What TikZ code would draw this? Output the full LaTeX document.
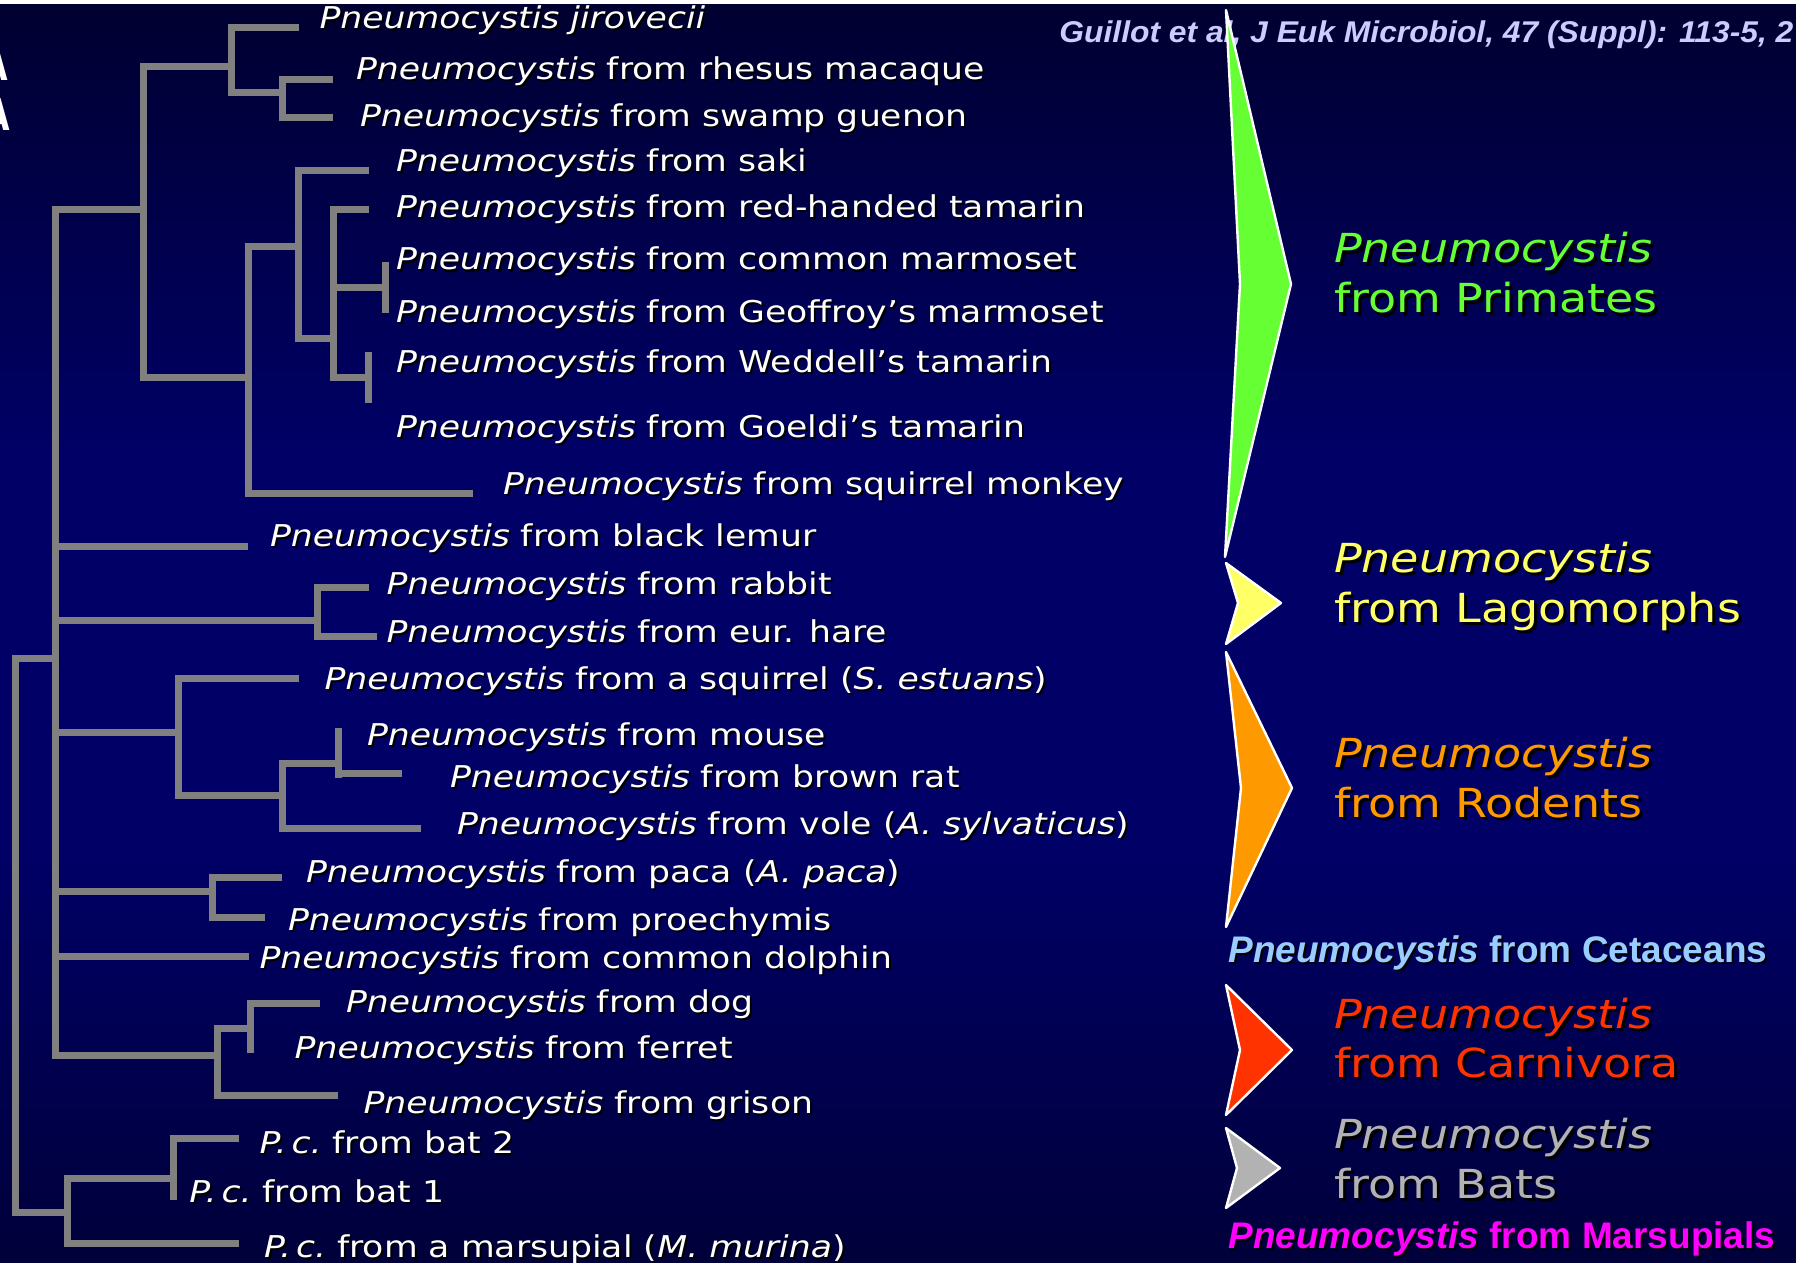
\documentclass[tikz,border=0pt]{standalone}
\usepackage{fontspec}
\setmainfont{DejaVu Sans}
\newfontfamily\vf[FakeStretch=1.155]{DejaVu Sans}
\newfontfamily\wf[FakeStretch=1.15]{DejaVu Sans}
\newfontfamily\af{Liberation Sans}
\newfontfamily\cf[FakeStretch=1.06]{Liberation Sans}
\newfontfamily\nf[FakeStretch=0.75]{DejaVu Sans}
\definecolor{bgtop}{RGB}{0,0,48}
\definecolor{bgmid}{RGB}{0,0,102}
\definecolor{bgbot}{RGB}{0,0,58}
\definecolor{branch}{HTML}{808080}
\definecolor{cgreen}{HTML}{66FF33}
\definecolor{cyellow}{HTML}{FFFF66}
\definecolor{corange}{HTML}{FF9900}
\definecolor{cred}{HTML}{FF3300}
\definecolor{cgrey}{HTML}{B2B2B2}
\definecolor{cblue}{HTML}{99CCFF}
\definecolor{cmag}{HTML}{FF00FF}
\definecolor{ccite}{HTML}{CCCCFF}
\newcommand\Pn{\textit{Pneumocystis}}
\newcommand\tl[4]{\node[tlab,text=black] (#1s) at ({#2+2},{#3+2}) {#4};\node[tlab] (#1) at (#2,#3) {#4};}
\newcommand\rl[5]{\node[rlab,text=black] (#1s) at ({#2+3},{#3+3}) {#5};\node[rlab,text=#4] (#1) at (#2,#3) {#5};}
\tikzset{
  br/.style={draw=branch,line width=3.5pt},
  tlab/.style={anchor=base west,inner sep=0pt,outer sep=0pt,text=white,font=\vf\fontsize{15}{18}\selectfont},
  rlab/.style={anchor=base west,inner sep=0pt,outer sep=0pt,font=\wf\fontsize{20}{24}\selectfont},
  blab/.style={anchor=base west,inner sep=0pt,outer sep=0pt,font=\af\bfseries\fontsize{18.5}{22}\selectfont},
  arr/.style={draw=white,line width=1.2pt,line join=round},
  edge/.style={anchor=base east,inner sep=0pt,text=white,font=\nf\bfseries\fontsize{22}{26}\selectfont},
}
\begin{document}
\begin{tikzpicture}[x=0.5pt,y=-0.5pt]
\useasboundingbox (0,0) rectangle (1796,1263);
\clip (0,0) rectangle (1796,1263);
% background
\shade[top color=bgtop,bottom color=bgmid] (0,0) rectangle (1796,450);
\fill[bgmid] (0,449) rectangle (1796,851);
\shade[top color=bgmid,bottom color=bgbot] (0,850) rectangle (1796,1263);
\fill[white] (0,0) rectangle (1796,4);
% letters cut off at the left edge
\node[edge] (la1) at (8,81) {A};
\node[edge] (la2) at (10,131) {A};
% ---------------- tree ----------------
% primates
\draw[br] (298.5,28) -- (231,28) -- (231,93) -- (282.5,93);
\draw[br] (333,80) -- (282.5,80) -- (282.5,118) -- (333,118);
\draw[br] (231,67) -- (143.5,67) -- (143.5,377) -- (248,377);
\draw[br] (143.5,210) -- (55.5,210) -- (55.5,1055) -- (217,1055);
\draw[br] (296.6,247) -- (248,247) -- (248,493) -- (472.6,493);
\draw[br] (368.5,171) -- (298.5,171) -- (298.5,338) -- (333,338);
\draw[br] (368.5,210) -- (333,210) -- (333,377) -- (368.5,377);
\draw[br] (333,287) -- (385.8,287);
\draw[br] (385.8,262) -- (385.8,313);
\draw[br] (368.5,352) -- (368.5,403);
% lemur, lagomorphs
\draw[br] (55.5,546) -- (248,546);
\draw[br] (55.5,620) -- (317.6,620);
\draw[br] (369,587) -- (317.6,587) -- (317.6,636) -- (377,636);
% root
\draw[br] (52,658) -- (15.3,658) -- (15.3,1212) -- (67.7,1212);
% rodents
\draw[br] (55.5,732) -- (178,732);
\draw[br] (298.5,678) -- (178,678) -- (178,795) -- (282.4,795);
\draw[br] (336.8,763) -- (282.4,763) -- (282.4,828) -- (421,828);
\draw[br] (338,728) -- (338,778);
\draw[br] (338,773) -- (401.8,773);
\draw[br] (55.5,891) -- (212.4,891);
\draw[br] (282,877) -- (212.4,877) -- (212.4,917) -- (265,917);
% dolphin
\draw[br] (55.5,956) -- (248.7,956);
% carnivora
\draw[br] (250.7,1028) -- (217,1028) -- (217,1095) -- (337.5,1095);
\draw[br] (319.6,1003) -- (250.7,1003) -- (250.7,1053);
% bats and marsupial
\draw[br] (170,1178) -- (67.7,1178) -- (67.7,1243) -- (239,1243);
\draw[br] (239,1138) -- (173,1138) -- (173,1200);
% ---------------- labels ----------------
\tl{jir}{319.5}{29}{\textit{Pneumocystis jirovecii}}
\tl{rhe}{356}{80}{\Pn\ from rhesus macaque}
\tl{gue}{360}{127}{\Pn\ from swamp guenon}
\tl{sak}{396}{172}{\Pn\ from saki}
\tl{rht}{396}{218}{\Pn\ from red-handed tamarin}
\tl{cmm}{396}{270}{\Pn\ from common marmoset}
\tl{gmm}{396}{322}{\Pn\ from Geoffroy’s marmoset}
\tl{wed}{396}{372}{\Pn\ from Weddell’s tamarin}
\tl{goe}{396}{437}{\Pn\ from Goeldi’s tamarin}
\tl{sqm}{503}{494}{\Pn\ from squirrel monkey}
\tl{lem}{270}{546}{\Pn\ from black lemur}
\tl{rab}{386.5}{594}{\Pn\ from rabbit}
\tl{har}{386.5}{642}{\Pn\ from eur. hare}
\tl{squ}{324.5}{689}{\Pn\ from a squirrel (\textit{S. estuans})}
\tl{mou}{367}{745}{\Pn\ from mouse}
\tl{rat}{450}{787}{\Pn\ from brown rat}
\tl{vol}{457}{834}{\Pn\ from vole (\textit{A. sylvaticus})}
\tl{pac}{306}{882}{\Pn\ from paca (\textit{A. paca})}
\tl{pro}{288}{930}{\Pn\ from proechymis}
\tl{dol}{259.5}{968}{\Pn\ from common dolphin}
\tl{dog}{346}{1012}{\Pn\ from dog}
\tl{fer}{294.7}{1058}{\Pn\ from ferret}
\tl{gri}{363.5}{1113}{\Pn\ from grison}
\tl{bt2}{259.5}{1153}{\textit{P.\,c.}\ from bat 2}
\tl{bt1}{189.4}{1202}{\textit{P.\,c.}\ from bat 1}
\tl{mar}{264}{1257}{\textit{P.\,c.}\ from a marsupial (\textit{M. murina})}
% ---------------- right side ----------------
\node[anchor=base west,inner sep=0pt,text=ccite,font=\cf\bfseries\itshape\fontsize{15}{18}\selectfont] (cit) at (1059,43) {Guillot et al, J Euk Microbiol, 47 (Suppl): 113-5, 2};
\path[arr,fill=cgreen] (1226,10) -- (1291,284) -- (1225,557) -- (1240,284) -- cycle;
\path[arr,fill=cyellow] (1226,563) -- (1281,603) -- (1226,644) -- (1238,603) -- cycle;
\path[arr,fill=corange] (1226,652) -- (1292,788) -- (1226,927) -- (1241,788) -- cycle;
\path[arr,fill=cred] (1226,985) -- (1292,1050) -- (1226,1115) -- (1240,1050) -- cycle;
\path[arr,fill=cgrey] (1226,1128) -- (1280,1168) -- (1226,1208) -- (1237,1168) -- cycle;
\rl{pr1}{1334}{263}{cgreen}{\Pn}
\rl{pr2}{1334}{313}{cgreen}{from Primates}
\rl{lg1}{1334}{572}{cyellow}{\Pn}
\rl{lg2}{1334}{622}{cyellow}{from Lagomorphs}
\rl{ro1}{1334}{767}{corange}{\Pn}
\rl{ro2}{1334}{817}{corange}{from Rodents}
\rl{ca1}{1334}{1028}{cred}{\Pn}
\rl{ca2}{1334}{1077}{cred}{from Carnivora}
\rl{ba1}{1334}{1148}{cgrey}{\Pn}
\rl{ba2}{1334}{1198}{cgrey}{from Bats}
\node[blab,text=black] (cets) at (1230.5,964) {\textit{Pneumocystis} from Cetaceans};
\node[blab,text=cblue] (cet) at (1228.5,962) {\textit{Pneumocystis} from Cetaceans};
\node[blab,text=black] (mrss) at (1230.5,1250) {\textit{Pneumocystis} from Marsupials};
\node[blab,text=cmag] (mrs) at (1228.5,1248) {\textit{Pneumocystis} from Marsupials};
\end{tikzpicture}
\end{document}
